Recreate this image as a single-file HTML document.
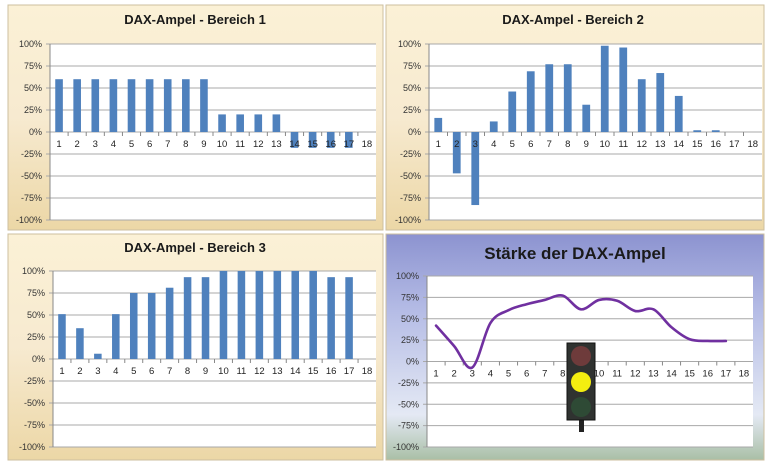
<!DOCTYPE html>
<html><head><meta charset="utf-8">
<style>
html,body{margin:0;padding:0;background:#fff;}
body{width:770px;height:465px;overflow:hidden;font-family:"Liberation Sans",sans-serif;}
svg text{font-family:"Liberation Sans",sans-serif;}
</style></head>
<body>
<svg id="c" width="770" height="465" viewBox="0 0 770 465">
<defs>
<linearGradient id="cream" x1="0" y1="0" x2="0" y2="1">
<stop offset="0" stop-color="#fbf1d6"/><stop offset="0.5" stop-color="#f7ead0"/><stop offset="1" stop-color="#ecd7a6"/>
</linearGradient>
<linearGradient id="blue" x1="0" y1="0" x2="0" y2="1">
<stop offset="0" stop-color="#8c93d0"/><stop offset="0.35" stop-color="#b6bde6"/><stop offset="0.8" stop-color="#e4e9f4"/><stop offset="1" stop-color="#a9bfa6"/>
</linearGradient>
</defs>
</svg>
<script>
// ---- data ----
const categories = [1,2,3,4,5,6,7,8,9,10,11,12,13,14,15,16,17,18];
const yTicks = [100,75,50,25,0,-25,-50,-75,-100];
const titles = ["DAX-Ampel - Bereich 1","DAX-Ampel - Bereich 2","DAX-Ampel - Bereich 3","Stärke der DAX-Ampel"];
const bereich1 = [60,60,60,60,60,60,60,60,60,20,20,20,20,-18,-18,-18,-18,null];
const bereich2 = [16,-47,-83,12,46,69,77,77,31,98,96,60,67,41,2,2,null,null];
const bereich3 = [51,35,6,51,75,75,81,93,93,100,100,100,100,100,100,93,93,null];
const staerke = [42,18,-7,45,60,67,72,77,61,72,71,59,61,40,26,24,24];

const NS="http://www.w3.org/2000/svg";
const svg=document.getElementById('c');
function mk(tag,attrs,parent){const e=document.createElementNS(NS,tag);for(const k in attrs)e.setAttribute(k,attrs[k]);(parent||svg).appendChild(e);return e;}

const panels=[
 {px:8,py:5,pw:375,ph:225,fill:'url(#cream)',x0:50,x1:376,y0:44,y1:220,ty:24,tx:195,fs:13,data:bereich1,name:'bereich-1'},
 {px:386,py:5,pw:378,ph:225,fill:'url(#cream)',x0:429,x1:762,y0:44,y1:220,ty:24,tx:573,fs:13,data:bereich2,name:'bereich-2'},
 {px:8,py:234,pw:375,ph:226,fill:'url(#cream)',x0:53,x1:376,y0:271,y1:447,ty:252,tx:195,fs:13,data:bereich3,name:'bereich-3'},
 {px:386,py:234,pw:378,ph:226,fill:'url(#blue)',x0:427,x1:753,y0:276,y1:447,ty:259,tx:575,fs:17,data:null,name:'staerke'}
];

panels.forEach((p,pi)=>{
  const g=mk('g',{});
  
  
  mk('rect',{x:p.px,y:p.py,width:p.pw,height:p.ph,fill:p.fill,stroke:'#cdbf9f','stroke-width':1},g);
  const t=mk('text',{x:p.tx,y:p.ty,'text-anchor':'middle','font-size':p.fs,'font-weight':'bold',fill:'#1a1a1a'},g);
  t.textContent=titles[pi];
  
  
  mk('rect',{x:p.x0,y:p.y0,width:p.x1-p.x0,height:p.y1-p.y0,fill:'#fff'},g);
  const yS=v=>p.y0+(100-v)/200*(p.y1-p.y0);
  const band=(p.x1-p.x0)/categories.length;
  const xS=i=>p.x0+band*(i+0.5);
  yTicks.forEach(v=>{
    mk('line',{x1:p.x0-4,x2:p.x1,y1:yS(v),y2:yS(v),stroke:'#a8a8a8','stroke-width':1},g);
    const l=mk('text',{x:p.x0-8,y:yS(v)+3,'text-anchor':'end','font-size':9,fill:'#333'},g);
    l.textContent=v+'%';
    
    
  });
  mk('line',{x1:p.x0,x2:p.x0,y1:p.y0,y2:p.y1,stroke:'#888'},g);
  const z=yS(0);
  categories.forEach((c,i)=>{
    mk('line',{x1:p.x0+band*i,x2:p.x0+band*i,y1:z,y2:z+4,stroke:'#888'},g);
  });
  if(p.data){
    p.data.forEach((v,i)=>{
      if(v===null)return;
      const bw=band*0.42;
      const r=mk('rect',{x:xS(i)-bw/2,y:Math.min(yS(v),z),width:bw,height:Math.abs(yS(v)-z),fill:'#4f81bd'},g);
      
      
    });
  }
  categories.forEach((c,i)=>{
    const l=mk('text',{x:xS(i),y:z+15,'text-anchor':'middle','font-size':9.5,fill:'#222'},g);
    l.textContent=c;
    
    
  });
  if(!p.data){
    const pts=staerke.map((v,i)=>[xS(i),yS(v)]);
    let d='M'+pts[0][0]+','+pts[0][1];
    for(let i=0;i<pts.length-1;i++){
      const p0=pts[Math.max(i-1,0)],p1=pts[i],p2=pts[i+1],p3=pts[Math.min(i+2,pts.length-1)];
      const c1=[p1[0]+(p2[0]-p0[0])/6,p1[1]+(p2[1]-p0[1])/6];
      const c2=[p2[0]-(p3[0]-p1[0])/6,p2[1]-(p3[1]-p1[1])/6];
      d+=' C'+c1+' '+c2+' '+p2;
    }
    const path=mk('path',{d:d,fill:'none',stroke:'#7030a0','stroke-width':2.6,'stroke-linecap':'round'},g);
    
    
    // traffic light
    const tl=mk('g',{},g);
    
    
    mk('rect',{x:579,y:418,width:5,height:14,fill:'#222'},tl);
    mk('rect',{x:567,y:343,width:28,height:77,fill:'#2f3230',stroke:'#111'},tl);
    mk('circle',{cx:581,cy:356,r:10,fill:'#6e3b3b'},tl);
    mk('circle',{cx:581,cy:382,r:10,fill:'#f4ee10'},tl);
    mk('circle',{cx:581,cy:407,r:10,fill:'#2e4a35'},tl);
  }
});
</script>
</body></html>
